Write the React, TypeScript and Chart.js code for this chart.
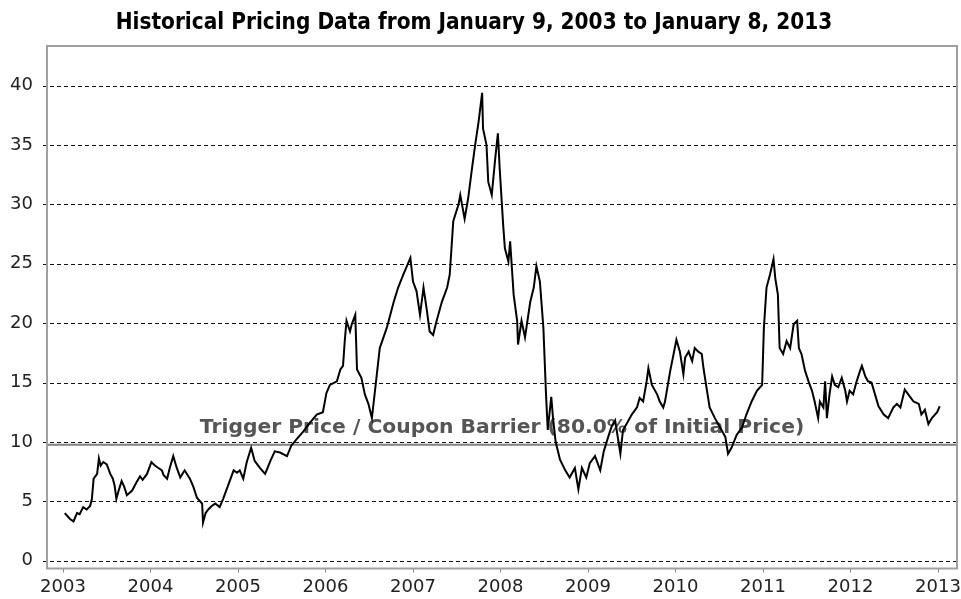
import React, { useEffect, useRef } from "react";
import { Chart, registerables } from "chart.js";

Chart.register(...registerables);

const TITLE = "Historical Pricing Data from January 9, 2003 to January 8, 2013";
const TRIGGER_LABEL = "Trigger Price / Coupon Barrier (80.0% of Initial Price)";
const TRIGGER_PRICE = 9.75;

const X_MIN = 2002.817;
const X_MAX = 2013.217;
const Y_MIN = -0.67;
const Y_MAX = 43.35;

const X_TICKS = [2003, 2004, 2005, 2006, 2007, 2008, 2009, 2010, 2011, 2012, 2013];
const Y_TICKS = [0, 5, 10, 15, 20, 25, 30, 35, 40];

// dates as decimal years
const dates: number[] = [
  2003.02, 2003.08, 2003.12, 2003.16, 2003.19, 2003.23, 2003.27, 2003.31, 2003.33, 2003.35,
  2003.39, 2003.41, 2003.43, 2003.46, 2003.5, 2003.54, 2003.57, 2003.59, 2003.61, 2003.64,
  2003.67, 2003.7, 2003.73, 2003.79, 2003.84, 2003.88, 2003.91, 2003.96,
  2004.01, 2004.05, 2004.09, 2004.13, 2004.15, 2004.19, 2004.22, 2004.26, 2004.3, 2004.34,
  2004.39, 2004.45, 2004.49, 2004.53, 2004.59, 2004.6, 2004.63, 2004.66, 2004.7, 2004.74,
  2004.79, 2004.83, 2004.89, 2004.95, 2004.99,
  2005.02, 2005.06, 2005.1, 2005.15, 2005.19, 2005.25, 2005.31, 2005.37, 2005.42, 2005.48,
  2005.56, 2005.61, 2005.69, 2005.75, 2005.82, 2005.9, 2005.97,
  2006.01, 2006.05, 2006.13, 2006.17, 2006.2, 2006.22, 2006.24, 2006.28, 2006.3, 2006.34,
  2006.36, 2006.41, 2006.45, 2006.49, 2006.53, 2006.57, 2006.62, 2006.7, 2006.78, 2006.83,
  2006.89, 2006.97,
  2007.0, 2007.04, 2007.08, 2007.12, 2007.16, 2007.19, 2007.23, 2007.27, 2007.33, 2007.39,
  2007.42, 2007.46, 2007.52, 2007.54, 2007.59, 2007.63, 2007.67, 2007.71, 2007.75, 2007.79,
  2007.8, 2007.84, 2007.86, 2007.9, 2007.94, 2007.97, 2007.99,
  2008.03, 2008.05, 2008.09, 2008.11, 2008.15, 2008.19, 2008.2, 2008.24, 2008.28, 2008.34,
  2008.38, 2008.41, 2008.45, 2008.49, 2008.52, 2008.54, 2008.58, 2008.6, 2008.63, 2008.68,
  2008.74, 2008.79, 2008.85, 2008.89, 2008.93, 2008.98,
  2009.02, 2009.08, 2009.14, 2009.18, 2009.23, 2009.27, 2009.31, 2009.37, 2009.4, 2009.44,
  2009.5, 2009.56, 2009.59, 2009.63, 2009.67, 2009.69, 2009.73, 2009.79, 2009.82, 2009.86,
  2009.88, 2009.94, 2009.97,
  2010.01, 2010.05, 2010.09, 2010.11, 2010.15, 2010.19, 2010.22, 2010.26, 2010.3, 2010.32,
  2010.36, 2010.39, 2010.45, 2010.51, 2010.57, 2010.6, 2010.64, 2010.7, 2010.76, 2010.81,
  2010.87, 2010.93, 2010.99,
  2011.01, 2011.04, 2011.08, 2011.12, 2011.14, 2011.17, 2011.19, 2011.23, 2011.27, 2011.31,
  2011.35, 2011.39, 2011.41, 2011.44, 2011.48, 2011.52, 2011.56, 2011.59, 2011.63, 2011.65,
  2011.69, 2011.71, 2011.73, 2011.76, 2011.79, 2011.82, 2011.86, 2011.9, 2011.94, 2011.96,
  2011.99,
  2012.03, 2012.07, 2012.11, 2012.13, 2012.17, 2012.2, 2012.24, 2012.28, 2012.32, 2012.38,
  2012.43, 2012.49, 2012.53, 2012.57, 2012.62, 2012.66, 2012.72, 2012.78, 2012.81, 2012.85,
  2012.89, 2012.93, 2012.99, 2013.02,
];

const prices: number[] = [
  4.0, 3.5, 3.3, 4.0, 3.9, 4.5, 4.3, 4.6, 5.2, 6.9,
  7.3, 8.6, 8.0, 8.3, 8.1, 7.3, 6.9, 6.3, 5.2, 6.0,
  6.7, 6.2, 5.5, 5.9, 6.6, 7.1, 6.8, 7.3,
  8.3, 8.0, 7.8, 7.6, 7.2, 6.9, 7.8, 8.8, 7.8, 7.0,
  7.6, 6.9, 6.2, 5.3, 4.8, 3.2, 4.0, 4.3, 4.6, 4.8,
  4.5, 5.2, 6.4, 7.6, 7.4,
  7.6, 6.9, 8.3, 9.5, 8.4, 7.8, 7.3, 8.4, 9.2, 9.1,
  8.8, 9.7, 10.4, 10.9, 11.6, 12.3, 12.5,
  14.1, 14.8, 15.1, 16.1, 16.4, 18.5, 20.2, 19.3, 19.9, 20.7,
  16.1, 15.4, 14.0, 13.2, 12.0, 14.6, 17.9, 19.6, 21.8, 23.0,
  24.1, 25.5,
  23.5, 22.7, 20.7, 23.0, 21.0, 19.3, 19.0, 20.2, 21.8, 23.0,
  24.1, 28.6, 30.0, 30.8, 28.8, 30.5, 32.8, 35.0, 37.0, 39.4,
  36.4, 35.0, 31.9, 30.8, 33.9, 36.0, 33.1,
  28.3, 26.3, 25.2, 26.9, 22.4, 20.2, 18.2, 20.2, 18.8, 21.8,
  23.0, 24.8, 23.5, 19.6, 14.0, 11.0, 13.8, 12.0, 10.0, 8.5,
  7.6, 7.0, 7.8, 6.0, 7.8, 7.0,
  8.2, 8.8, 7.6, 9.2, 10.4, 11.3, 11.8, 9.0, 11.0, 11.5,
  12.3, 12.9, 13.7, 13.4, 15.1, 16.2, 14.8, 14.0, 13.4, 12.9,
  13.4, 16.0, 17.1,
  18.6, 17.6, 15.7, 17.1, 17.6, 16.8, 17.9, 17.6, 17.4, 16.2,
  14.3, 12.9, 12.0, 11.2, 10.4, 9.0, 9.5, 10.6, 11.2, 12.3,
  13.4, 14.3, 14.8,
  19.6, 23.0, 24.1, 25.4, 23.8, 22.4, 17.9, 17.4, 18.5, 17.9,
  19.9, 20.2, 17.9, 17.4, 16.0, 15.1, 14.3, 13.4, 12.0, 13.4,
  12.9, 15.1, 12.0, 14.0, 15.5, 14.8, 14.6, 15.4, 14.3, 13.4,
  14.3,
  14.0, 15.1, 16.0, 16.4, 15.5, 15.1, 15.0, 14.0, 13.0, 12.3,
  12.0, 12.9, 13.2, 12.9, 14.4, 14.0, 13.4, 13.2, 12.3, 12.7,
  11.5, 12.0, 12.5, 13.0,
];

const titlePlugin = {
  id: "customTitle",
  afterDraw(chart: any) {
    const ctx = chart.ctx;
    ctx.save();
    ctx.font = "bold 22.4px 'DejaVu Sans Condensed', 'DejaVu Sans'";
    ctx.fillStyle = "#000";
    ctx.textAlign = "center";
    ctx.textBaseline = "alphabetic";
    ctx.fillText(TITLE, 474, 28.5);
    ctx.restore();
  },
};

const dashedGridPlugin = {
  id: "dashedGrid",
  beforeDatasetsDraw(chart: any) {
    const { ctx, chartArea, scales } = chart;
    ctx.save();
    ctx.strokeStyle = "#111";
    ctx.lineWidth = 1;
    ctx.setLineDash([4, 3]);
    Y_TICKS.forEach((v) => {
      const y = Math.round(scales.y.getPixelForValue(v)) + 0.5;
      ctx.beginPath();
      ctx.moveTo(chartArea.left - 4, y);
      ctx.lineTo(chartArea.right, y);
      ctx.stroke();
    });
    ctx.restore();
  },
};

const triggerLabelPlugin = {
  id: "triggerLabel",
  beforeDatasetsDraw(chart: any) {
    const { ctx, chartArea, scales } = chart;
    const y = scales.y.getPixelForValue(TRIGGER_PRICE);
    ctx.save();
    ctx.font = "bold 20.3px 'DejaVu Sans'";
    ctx.fillStyle = "#555";
    ctx.textAlign = "center";
    ctx.textBaseline = "alphabetic";
    ctx.fillText(TRIGGER_LABEL, (chartArea.left + chartArea.right) / 2, y - 12);
    ctx.restore();
  },
};

const framePlugin = {
  id: "frame",
  afterDatasetsDraw(chart: any) {
    const { ctx, chartArea } = chart;
    ctx.save();
    ctx.strokeStyle = "#a0a0a0";
    ctx.lineWidth = 2;
    ctx.strokeRect(chartArea.left, chartArea.top, chartArea.right - chartArea.left, chartArea.bottom - chartArea.top);
    ctx.restore();
  },
};

export default function App() {
  const ref = useRef<HTMLCanvasElement>(null);
  useEffect(() => {
    const canvas = ref.current;
    if (!canvas) return;
    const chart = new Chart(canvas, {
      type: "line",
      data: {
        datasets: [
          {
            label: "Price",
            data: dates.map((d, i) => ({ x: d, y: prices[i] })),
            borderColor: "#000",
            borderWidth: 2,
            pointRadius: 0,
            tension: 0,
            fill: false,
          },
          {
            label: "Trigger",
            data: [
              { x: X_MIN, y: TRIGGER_PRICE },
              { x: X_MAX, y: TRIGGER_PRICE },
            ],
            borderColor: "#808080",
            borderWidth: 2,
            pointRadius: 0,
            fill: false,
          },
        ],
      },
      options: {
        responsive: false,
        devicePixelRatio: 1,
        animation: false,
        events: [],
        layout: { padding: { top: 46, right: 4, left: 0, bottom: 0 } },
        plugins: {
          legend: { display: false },
          tooltip: { enabled: false },
          title: { display: false },
        },
        scales: {
          x: {
            type: "linear",
            min: X_MIN,
            max: X_MAX,
            afterBuildTicks: (scale: any) => {
              scale.ticks = X_TICKS.map((v) => ({ value: v }));
            },
            afterFit: (scale: any) => {
              scale.height = 30.5;
              scale.paddingLeft = 0;
              scale.paddingRight = 0;
            },
            grid: {
              drawOnChartArea: false,
              drawTicks: true,
              tickLength: 4,
              tickColor: "#888",
              tickWidth: 1,
            },
            border: { display: false },
            ticks: {
              padding: 4,
              color: "#222",
              font: { family: "'DejaVu Sans'", size: 18 },
              maxRotation: 0,
              autoSkip: false,
              callback: (v: any) => String(v),
            },
          },
          y: {
            type: "linear",
            min: Y_MIN,
            max: Y_MAX,
            afterBuildTicks: (scale: any) => {
              scale.ticks = Y_TICKS.map((v) => ({ value: v }));
            },
            afterFit: (scale: any) => {
              scale.width = 47;
              scale.paddingTop = 0;
              scale.paddingBottom = 0;
            },
            grid: {
              display: true,
              drawOnChartArea: false,
              drawTicks: false,
            },
            border: { display: false },
            ticks: {
              padding: 14,
              color: "#222",
              font: { family: "'DejaVu Sans'", size: 18 },
              autoSkip: false,
              callback: (v: any) => String(v),
            },
          },
        },
      },
      plugins: [dashedGridPlugin, triggerLabelPlugin, titlePlugin, framePlugin],
    } as any);
    return () => chart.destroy();
  }, []);
  return (
    <div style={{ position: "fixed", left: 0, top: 0, width: 961, height: 599, background: "#fff" }}>
      <canvas ref={ref} width={961} height={599} style={{ display: "block", width: 961, height: 599 }} />
    </div>
  );
}
